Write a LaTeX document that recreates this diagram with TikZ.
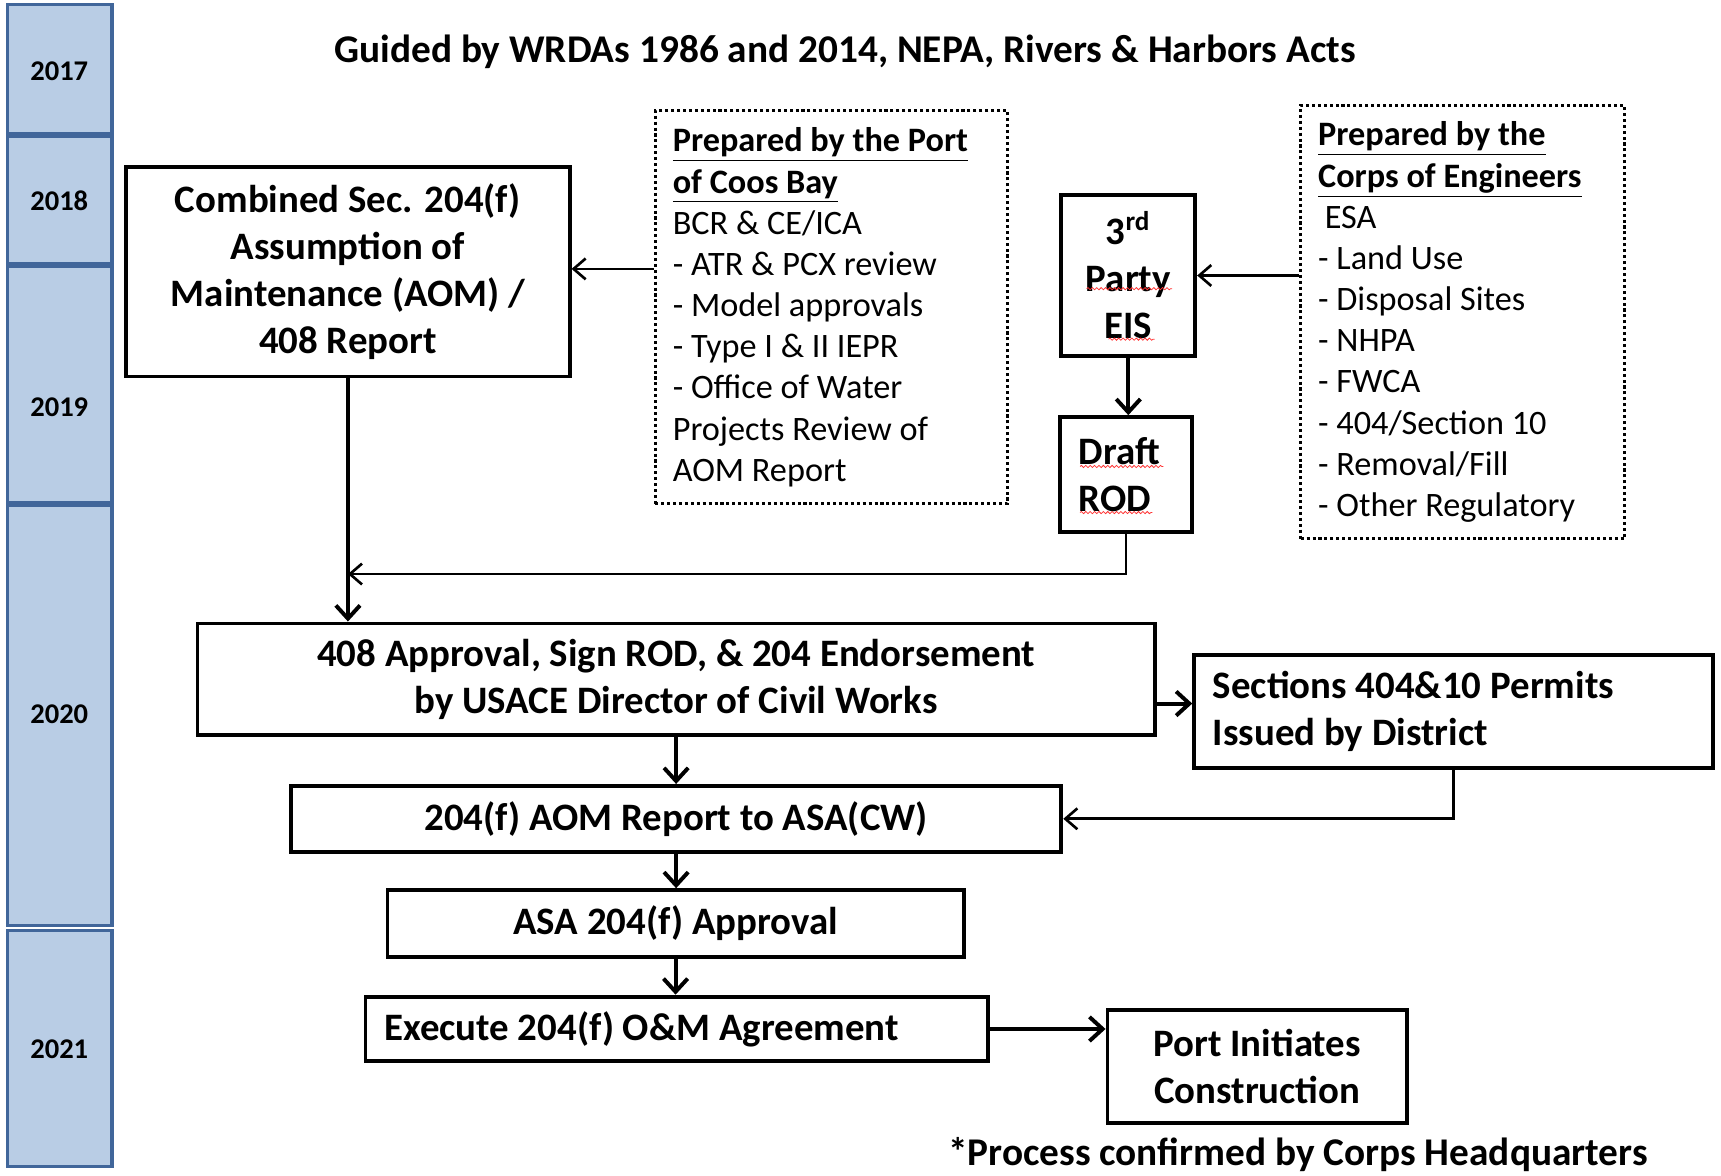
\documentclass[tikz,border=0pt]{standalone}
\usepackage{fontspec}
\setmainfont{Carlito}
\usetikzlibrary{arrows.meta,decorations.pathmorphing}
\definecolor{yearfill}{HTML}{B9CDE5}
\definecolor{yearline}{HTML}{41669A}
\begin{document}
\begin{tikzpicture}[x=0.5pt,y=-0.5pt,
  box/.style={draw, line width=1.75pt, inner sep=0pt, font=\bfseries\fontsize{17.7}{21.5}\selectfont, align=center},
  lbox/.style={box, inner xsep=8.5pt, align=flush left},
  dotbox/.style={draw, line width=1.4pt, dash pattern=on 1.4pt off 1.3pt, inner sep=0pt, inner xsep=8pt, align=flush left, font=\fontsize{15.6}{18.75}\selectfont},
  yearbar/.style={draw=yearline, fill=yearfill, line width=1.5pt, minimum width=47.5pt, inner sep=0pt},
  yeartext/.style={font=\bfseries\fontsize{13}{14}\selectfont},
  thickarrow/.style={line width=1.8pt, -{Straight Barb[length=6pt, width=11pt]}},
  thinarrow/.style={line width=1.2pt, -{Straight Barb[length=5.5pt, width=9.5pt]}},
  squiggle/.style={red!80, line width=0.35pt, decorate, decoration={snake, amplitude=0.5pt, segment length=2pt}}
]
\useasboundingbox (0,0) rectangle (1568,1071);

% year bars
\node (y17) [yearbar, minimum height=59pt]    at (54.5,63)    {};
\node (y18) [yearbar, minimum height=58pt]    at (54.5,182)   {};
\node (y19) [yearbar, minimum height=107.5pt] at (54.5,350.5) {};
\node (y20) [yearbar, minimum height=191.5pt] at (54.5,651.5) {};
\node (y21) [yearbar, minimum height=107.5pt] at (54.5,955.5) {};
\node (t17) [yeartext] at (54,65)  {2017};
\node (t18) [yeartext] at (54,183) {2018};
\node (t19) [yeartext] at (54,371) {2019};
\node (t20) [yeartext] at (54,651) {2020};
\node (t21) [yeartext] at (54,956) {2021};

% title
\node (title) [font=\bfseries\fontsize{17.9}{20}\selectfont] at (770,47)
  {Guided by WRDAs 1986 and 2014, NEPA, Rivers \& Harbors Acts};

% boxes
\node (comb) [box, minimum width=202pt, minimum height=95.5pt] at (317,247.5)
  {Combined Sec. 204(f)\\Assumption of\\Maintenance (AOM) /\\408 Report};
\node (port) [dotbox, text width=144.5pt, minimum height=179pt] at (757.5,280)
  {\textbf{\underline{Prepared by the Port}}\\\textbf{\underline{of Coos Bay}}\\BCR \& CE/ICA\\- ATR \& PCX review\\- Model approvals\\- Type I \& II IEPR\\- Office of Water\\Projects Review of\\AOM Report};
\node (third) [box, minimum width=61pt, minimum height=73pt] at (1028,251)
  {3\textsuperscript{rd}\\Party\\EIS};
\node (draft) [lbox, text width=43pt, minimum height=52.5pt] at (1026,432.5)
  {Draft\\ROD};
\node (corps) [dotbox, text width=131.5pt, minimum height=197.5pt] at (1332.5,293.5)
  {\textbf{\underline{Prepared by the}}\\\textbf{\underline{Corps of Engineers}}\\\hspace*{3pt}ESA\\- Land Use\\- Disposal Sites\\- NHPA\\- FWCA\\- 404/Section 10\\- Removal/Fill\\- Other Regulatory};
\node (app) [box, minimum width=436pt, minimum height=51pt] at (616,619)
  {408 Approval, Sign ROD, \& 204 Endorsement\\by USACE Director of Civil Works};
\node (sect) [lbox, text width=219.5pt, minimum height=51.5pt] at (1324.5,648.5)
  {Sections 404\&10 Permits\\Issued by District};
\node (aom) [box, minimum width=351pt, minimum height=30pt] at (616,746)
  {204(f) AOM Report to ASA(CW)};
\node (asa) [box, minimum width=262.5pt, minimum height=30.5pt] at (615.5,841.5)
  {ASA 204(f) Approval};
\node (exe) [lbox, text width=266.5pt, minimum height=29.5pt] at (616.5,937.5)
  {Execute 204(f) O\&M Agreement};
\node (pinit) [box, minimum width=136.5pt, minimum height=51.5pt] at (1145.5,971.5)
  {Port Initiates\\Construction};
\node (note) [font=\bfseries\fontsize{17.9}{20}\selectfont] at (1182.5,1052)
  {*Process confirmed by Corps Headquarters};

% spell-check squiggles
\draw[squiggle] (990,263) -- (1068,263);
\draw[squiggle] (1010,309) -- (1052,309);
\draw[squiggle] (984,425) -- (1060,425);
\draw[squiggle] (984,467) -- (1050,467);

% connectors
\coordinate (merge) at (317,523);
\draw[thinarrow] (port.west |- 0,245) -- (comb.east |- 0,245);
\draw[thinarrow] (corps.west |- third.east) -- (third.east);
\draw[thickarrow] (third.south) -- (third.south |- draft.north);
\draw[thickarrow] (comb.south) -- (comb.south |- app.north);
\draw[thinarrow] (draft.south) |- (merge);
\draw[thickarrow] (app.east |- 0,641) -- (sect.west |- 0,641);
\draw[thinarrow] (sect.south) |- (aom.east);
\draw[thickarrow] (app.south) -- (aom.north);
\draw[thickarrow] (aom.south) -- (aom.south |- asa.north);
\draw[thickarrow] (asa.south) -- (asa.south |- exe.north);
\draw[thickarrow] (exe.east) -- (exe.east -| pinit.west);
\end{tikzpicture}
\end{document}
